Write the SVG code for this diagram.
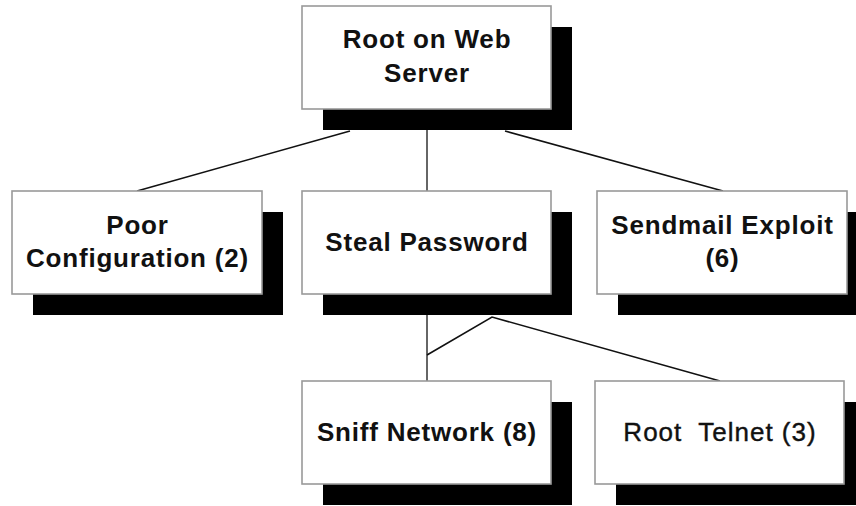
<svg xmlns="http://www.w3.org/2000/svg" width="856" height="506" viewBox="0 0 856 506">
<style>
.box{fill:#ffffff;stroke:#999999;stroke-width:1.6}
.sh{fill:#000000}
.t{font-family:"Liberation Sans",Arial,sans-serif;font-size:26px;font-weight:bold;letter-spacing:0.8px;fill:#111111;text-anchor:middle}
.n{font-weight:normal;letter-spacing:1px;stroke:#111111;stroke-width:0.4}
.c{stroke:#111111;stroke-width:1.6;fill:none}
.v{stroke:#666666;stroke-width:2;fill:none}
</style>
<rect width="856" height="506" fill="#ffffff"/>
<g id="connectors">
<line class="v" x1="427" y1="109" x2="427" y2="191"/>
<line class="c" x1="350" y1="131" x2="137" y2="191"/>
<line class="c" x1="505" y1="131" x2="723" y2="191"/>
<line class="v" x1="427" y1="294" x2="427" y2="381"/>
<polyline class="c" points="427,355 492,317 720,381"/>
</g>
<g id="root">
<rect class="sh" x="323" y="27" width="249" height="103"/>
<rect class="box" x="302" y="6" width="249" height="103"/>
<text class="t" x="427" y="48">Root on Web</text>
<text class="t" x="427" y="82">Server</text>
</g>
<g id="poor">
<rect class="sh" x="33" y="212" width="250" height="103"/>
<rect class="box" x="12" y="191" width="250" height="103"/>
<text class="t" x="137.5" y="234">Poor</text>
<text class="t" x="137.5" y="267">Configuration (2)</text>
</g>
<g id="steal">
<rect class="sh" x="323" y="212" width="249" height="103"/>
<rect class="box" x="302" y="191" width="249" height="103"/>
<text class="t" x="427" y="251">Steal Password</text>
</g>
<g id="sendmail">
<rect class="sh" x="618" y="212" width="250" height="103"/>
<rect class="box" x="597" y="191" width="250" height="103"/>
<text class="t" x="722.5" y="234">Sendmail Exploit</text>
<text class="t" x="722.5" y="267">(6)</text>
</g>
<g id="sniff">
<rect class="sh" x="323" y="402" width="249" height="103"/>
<rect class="box" x="302" y="381" width="249" height="103"/>
<text class="t" x="427" y="441">Sniff Network (8)</text>
</g>
<g id="telnet">
<rect class="sh" x="616" y="402" width="249" height="103"/>
<rect class="box" x="595" y="381" width="249" height="103"/>
<text class="t n" x="720" y="441" xml:space="preserve" style="white-space:pre">Root  Telnet (3)</text>
</g>
</svg>
